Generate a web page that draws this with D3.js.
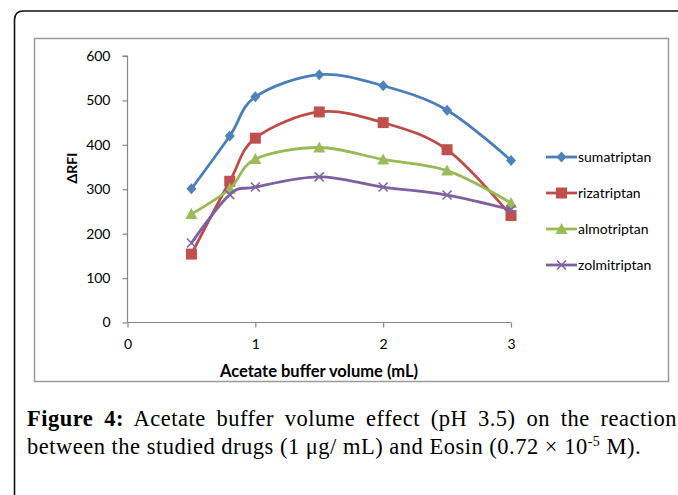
<!DOCTYPE html>
<html>
<head>
<meta charset="utf-8">
<script src="https://cdn.jsdelivr.net/npm/d3@7"></script>
<style>
  html, body { margin: 0; padding: 0; background: #fff; }
  svg { display: block; }
</style>
</head>
<body>
<svg id="chart" width="678" height="495"></svg>
<script>
// ---- data ----
const volumes = [0.5, 0.8, 1, 1.5, 2, 2.5, 3];
const seriesNames = ["sumatriptan", "rizatriptan", "almotriptan", "zolmitriptan"];
const sumatriptan = [301, 420, 508, 558, 533, 478, 365];
const rizatriptan = [154, 318, 415, 474, 450, 389, 241];
const almotriptan = [244, 301, 368, 394, 367, 342, 269];
const zolmitriptan = [179, 288, 305, 328, 305, 287, 254];
const xTicks = [0, 1, 2, 3];
const yTicks = [0, 100, 200, 300, 400, 500, 600];
const xTitle = "Acetate buffer volume (mL)";
const yTitle = "\u0394RFI";
const captionBold = "Figure 4:";
const captionLine1 = "Acetate buffer volume effect (pH 3.5) on the reaction";
const captionLine2a = "between the studied drugs (1 \u03bcg/ mL) and Eosin (0.72 \u00d7 10";
const captionSup = "-5";
const captionLine2b = " M).";

const seriesValues = [sumatriptan, rizatriptan, almotriptan, zolmitriptan];
const lineColors = ["#4A7EBB", "#BE4B48", "#98B954", "#7D60A0"];
const markerColors = ["#4F81BD", "#C0504D", "#9BBB59", "#8064A2"];
const markerTypes = ["diamond", "square", "triangle", "x"];

const svg = d3.select("#chart");
const chartFont = "Lato, 'Open Sans', sans-serif";

// outer rounded frame (continues beyond the viewport)
svg.append("path")
  .attr("d", "M14.5,500 L14.5,20 Q14.5,11 23.5,11 L690,11")
  .attr("fill", "none").attr("stroke", "#111").attr("stroke-width", 1.6);

// inner chart box
svg.append("rect")
  .attr("x", 34.5).attr("y", 38.5).attr("width", 634).attr("height", 343)
  .attr("fill", "#fff").attr("stroke", "#9a9a9a").attr("stroke-width", 1.5);

const x = d3.scaleLinear().domain([0, 3]).range([127.5, 511]);
const y = d3.scaleLinear().domain([0, 600]).range([322.5, 56]);

// axes
const yAxis = svg.append("g").attr("transform", `translate(${x(0)},0)`)
  .call(d3.axisLeft(y).tickValues(yTicks).tickSize(5).tickPadding(12).tickFormat(d3.format("d")));
const xAxis = svg.append("g").attr("transform", `translate(0,${y(0)})`)
  .call(d3.axisBottom(x).tickValues(xTicks).tickSize(5).tickPadding(12).tickFormat(d3.format("d")));
[xAxis, yAxis].forEach(g => {
  g.select(".domain").attr("stroke", "#868686").attr("stroke-width", 1.2);
  g.selectAll(".tick line").attr("stroke", "#868686").attr("stroke-width", 1.2);
  g.selectAll(".tick text").attr("fill", "#000")
    .style("font-family", chartFont).style("font-size", "14px");
});
yAxis.select(".domain").attr("d", `M-5,${y(600)}H0V${y(0)}`);
xAxis.select(".domain").attr("d", `M${x(0)},0H${x(3)}`);

// axis titles
svg.append("text")
  .attr("x", 319).attr("y", 377)
  .attr("text-anchor", "middle")
  .style("font-family", chartFont).style("font-size", "16.5px").style("font-weight", "bold")
  .text(xTitle);
svg.append("text")
  .attr("transform", "translate(77,168) rotate(-90)")
  .attr("text-anchor", "middle")
  .style("font-family", chartFont).style("font-size", "14px").style("font-weight", "bold")
  .text(yTitle);

// marker drawing
function drawMarker(g, type, color, cx, cy) {
  if (type === "diamond") {
    g.append("path").attr("d", `M${cx},${cy-5.5}L${cx+5},${cy}L${cx},${cy+5.5}L${cx-5},${cy}Z`)
      .attr("fill", color);
  } else if (type === "square") {
    g.append("rect").attr("x", cx - 5.5).attr("y", cy - 5.5).attr("width", 11).attr("height", 11)
      .attr("fill", color);
  } else if (type === "triangle") {
    g.append("path").attr("d", `M${cx},${cy-6}L${cx+6},${cy+5}L${cx-6},${cy+5}Z`)
      .attr("fill", color);
  } else {
    g.append("path").attr("d", `M${cx-4.5},${cy-4.5}L${cx+4.5},${cy+4.5}M${cx+4.5},${cy-4.5}L${cx-4.5},${cy+4.5}`)
      .attr("stroke", color).attr("stroke-width", 1.6).attr("fill", "none");
  }
}

const line = d3.line()
  .x(d => x(d[0])).y(d => y(d[1]))
  .curve(d3.curveCardinal.tension(0));

seriesValues.forEach((vals, i) => {
  const g = svg.append("g");
  const pts = volumes.map((v, j) => [v, vals[j]]);
  g.append("path").datum(pts).attr("d", line)
    .attr("fill", "none").attr("stroke", lineColors[i]).attr("stroke-width", 2.8)
    .attr("stroke-linejoin", "round").attr("stroke-linecap", "round");
  pts.forEach(p => drawMarker(g, markerTypes[i], markerColors[i], x(p[0]), y(p[1])));
});

// legend
const legendY = [157, 193, 229, 265];
seriesNames.forEach((name, i) => {
  const g = svg.append("g");
  g.append("line").attr("x1", 546).attr("x2", 577).attr("y1", legendY[i]).attr("y2", legendY[i])
    .attr("stroke", lineColors[i]).attr("stroke-width", 2.8);
  drawMarker(g, markerTypes[i], markerColors[i], 561.5, legendY[i]);
  g.append("text").attr("x", 578).attr("y", legendY[i]).attr("dy", "0.35em")
    .style("font-family", chartFont).style("font-size", "14px")
    .text(name);
});

// caption
const capFont = "'Liberation Serif', 'Times New Roman', serif";
const capSize = 22.5;
function justify(textSel, targetWidth) {
  const node = textSel.node();
  const w = node.getComputedTextLength();
  const full = textSel.text();
  const nSpaces = (full.match(/ /g) || []).length;
  if (nSpaces > 0) textSel.style("word-spacing", ((targetWidth - w) / nSpaces) + "px");
}
const l1 = svg.append("text").attr("x", 27).attr("y", 426)
  .style("font-family", capFont).style("font-size", capSize + "px")
  .style("letter-spacing", "0.5px").attr("fill", "#000");
l1.append("tspan").style("font-weight", "bold").text(captionBold);
l1.append("tspan").text(" " + captionLine1);
justify(l1, 677 - 27);

const l2 = svg.append("text").attr("x", 27).attr("y", 454)
  .style("font-family", capFont).style("font-size", capSize + "px")
  .style("letter-spacing", "0.5px").attr("fill", "#000");
l2.append("tspan").text(captionLine2a);
l2.append("tspan").attr("dy", -8).style("font-size", (capSize * 0.62) + "px").text(captionSup);
l2.append("tspan").attr("dy", 8).text(captionLine2b);
justify(l2, 641 - 27);
</script>
</body>
</html>
